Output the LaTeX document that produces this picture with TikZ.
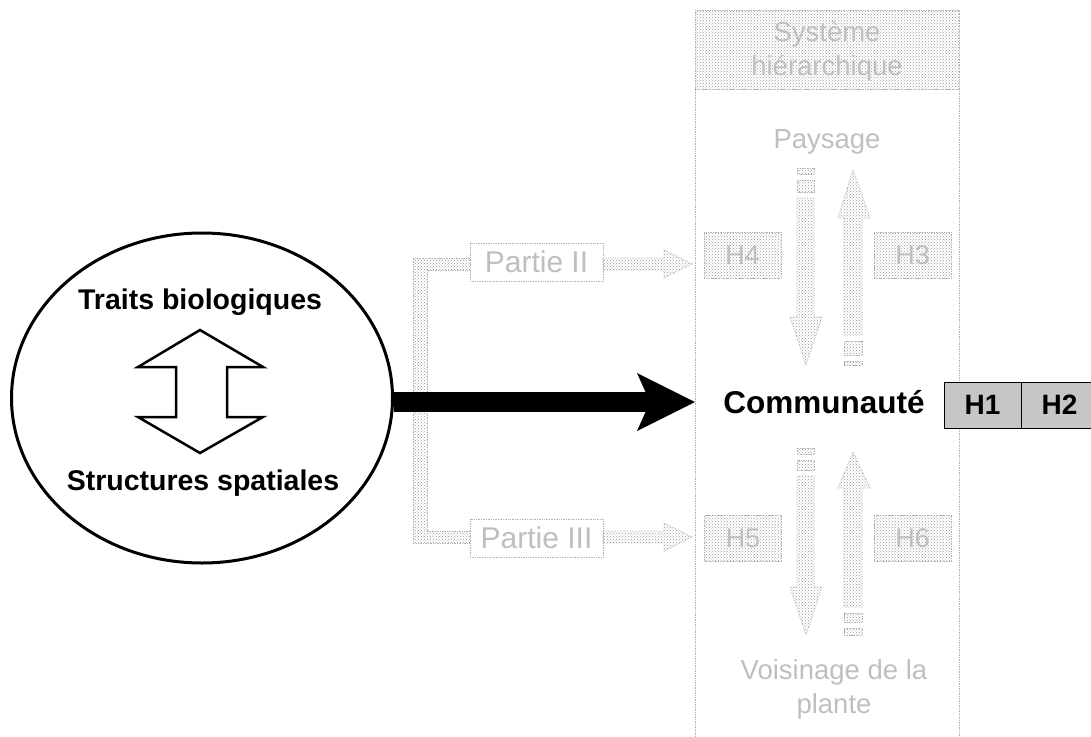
\documentclass[tikz,border=0pt]{standalone}
\usepackage{fontspec}
\setmainfont{Liberation Sans}
\usetikzlibrary{shapes.geometric,arrows.meta,patterns}

\begin{document}
\begin{tikzpicture}[x=1pt,y=-1pt,
  faded/.style={draw=gray!60, densely dotted, line width=0.7pt},
  fadedfill/.style={faded, pattern=crosshatch dots, pattern color=gray!80},
  fadedtext/.style={text=gray!50, font=\fontsize{27.5}{34}\selectfont, align=center, inner sep=0pt},
  boldtext/.style={font=\bfseries\fontsize{28.5}{33}\selectfont, inner sep=0pt},
  hbox/.style={draw, line width=1pt, fill=gray!45, minimum width=77pt, minimum height=46pt,
    inner sep=0pt, font=\bfseries\fontsize{28}{32}\selectfont},
  fadedbox/.style={fadedfill, minimum width=77pt, minimum height=46pt, inner sep=0pt,
    text=gray!50, font=\fontsize{27}{30}\selectfont},
  partbox/.style={faded, fill=white, minimum width=133pt, minimum height=38pt, inner sep=0pt,
    text=gray!50, font=\fontsize{30}{32}\selectfont}
]
\useasboundingbox (0,0) rectangle (1091,736);

% hierarchical system frame
\draw[faded] (695,10) rectangle (959,745);
\fill[pattern=crosshatch dots, pattern color=gray!80] (695,10) rectangle (959,89);
\draw[faded] (695,89) -- (959,89);
\node[fadedtext] (sys) at (827,51) {Système\\hiérarchique};
\node[fadedtext] (pays) at (827,142) {Paysage};
\node[fadedtext] (vois) at (834,689) {Voisinage de la\\plante};

% hypothesis boxes of the upper and lower levels
\node[fadedbox] (h4) at (742.5,255) {H4};
\node[fadedbox] (h3) at (912.5,255) {H3};
\node[fadedbox] (h5) at (743,538.5) {H5};
\node[fadedbox] (h6) at (912.5,538.5) {H6};

% vertical block arrows, upper level
\filldraw[fadedfill] (797,168) rectangle (814,174);
\filldraw[fadedfill] (797,180) rectangle (814,192);
\filldraw[fadedfill] (797,198) -- (814,198) -- (814,317) -- (822,317) -- (806,365)
  -- (790,317) -- (797,317) -- cycle;
\filldraw[fadedfill] (853,170) -- (870,218) -- (862,218) -- (862,335) -- (844,335)
  -- (844,218) -- (838,218) -- cycle;
\filldraw[fadedfill] (844,341) rectangle (862,355);
\filldraw[fadedfill] (844,361) rectangle (862,365);

% vertical block arrows, lower level
\filldraw[fadedfill] (797,448) rectangle (814,454);
\filldraw[fadedfill] (797,460) rectangle (814,470);
\filldraw[fadedfill] (797,476) -- (814,476) -- (814,587) -- (822,587) -- (806,635)
  -- (790,587) -- (797,587) -- cycle;
\filldraw[fadedfill] (853,452) -- (870,488) -- (862,488) -- (862,607) -- (844,607)
  -- (844,488) -- (838,488) -- cycle;
\filldraw[fadedfill] (844,613) rectangle (862,622);
\filldraw[fadedfill] (844,628) rectangle (862,635);

% bracket towards the two parts
\filldraw[fadedfill] (470,258) -- (413,258) -- (413,543) -- (470,543) -- (470,531)
  -- (427,531) -- (427,270) -- (470,270) -- cycle;
\node[partbox] (p2) at (536.5,262) {Partie II};
\node[partbox] (p3) at (536.5,538) {Partie III};
\filldraw[fadedfill] (603,258) -- (664,258) -- (664,250) -- (692,264) -- (664,278)
  -- (664,270) -- (603,270) -- cycle;
\filldraw[fadedfill] (603,531) -- (664,531) -- (664,523) -- (692,537) -- (664,551)
  -- (664,543) -- (603,543) -- cycle;

% main ellipse
\node[ellipse, draw, line width=3pt, fill=white, minimum width=381pt, minimum height=330pt]
  (ell) at (202,398) {};
\node[boldtext] (traits) at (200,302) {Traits biologiques};
\node[boldtext] (struct) at (203,483) {Structures spatiales};
\filldraw[line width=2.5pt, fill=white, line join=miter]
  (200,330) -- (263,367) -- (227,367) -- (227,417) -- (263,417) -- (200,453)
  -- (138,417) -- (176,417) -- (176,367) -- (138,367) -- cycle;

% community level
\node[font=\bfseries\fontsize{31.5}{36}\selectfont, inner sep=0pt] (comm) at (824,402) {Communauté};
\node[hbox] (h1) at (982.5,405) {H1};
\node[hbox] (h2) at (1059.5,405) {H2};

% main arrow
\coordinate (bigtip) at (695,402);
\draw[line width=20pt, -{Stealth[length=58pt,width=58pt,inset=13pt,line width=0pt]}]
  (ell.east |- bigtip) -- (bigtip);
\end{tikzpicture}
\end{document}
